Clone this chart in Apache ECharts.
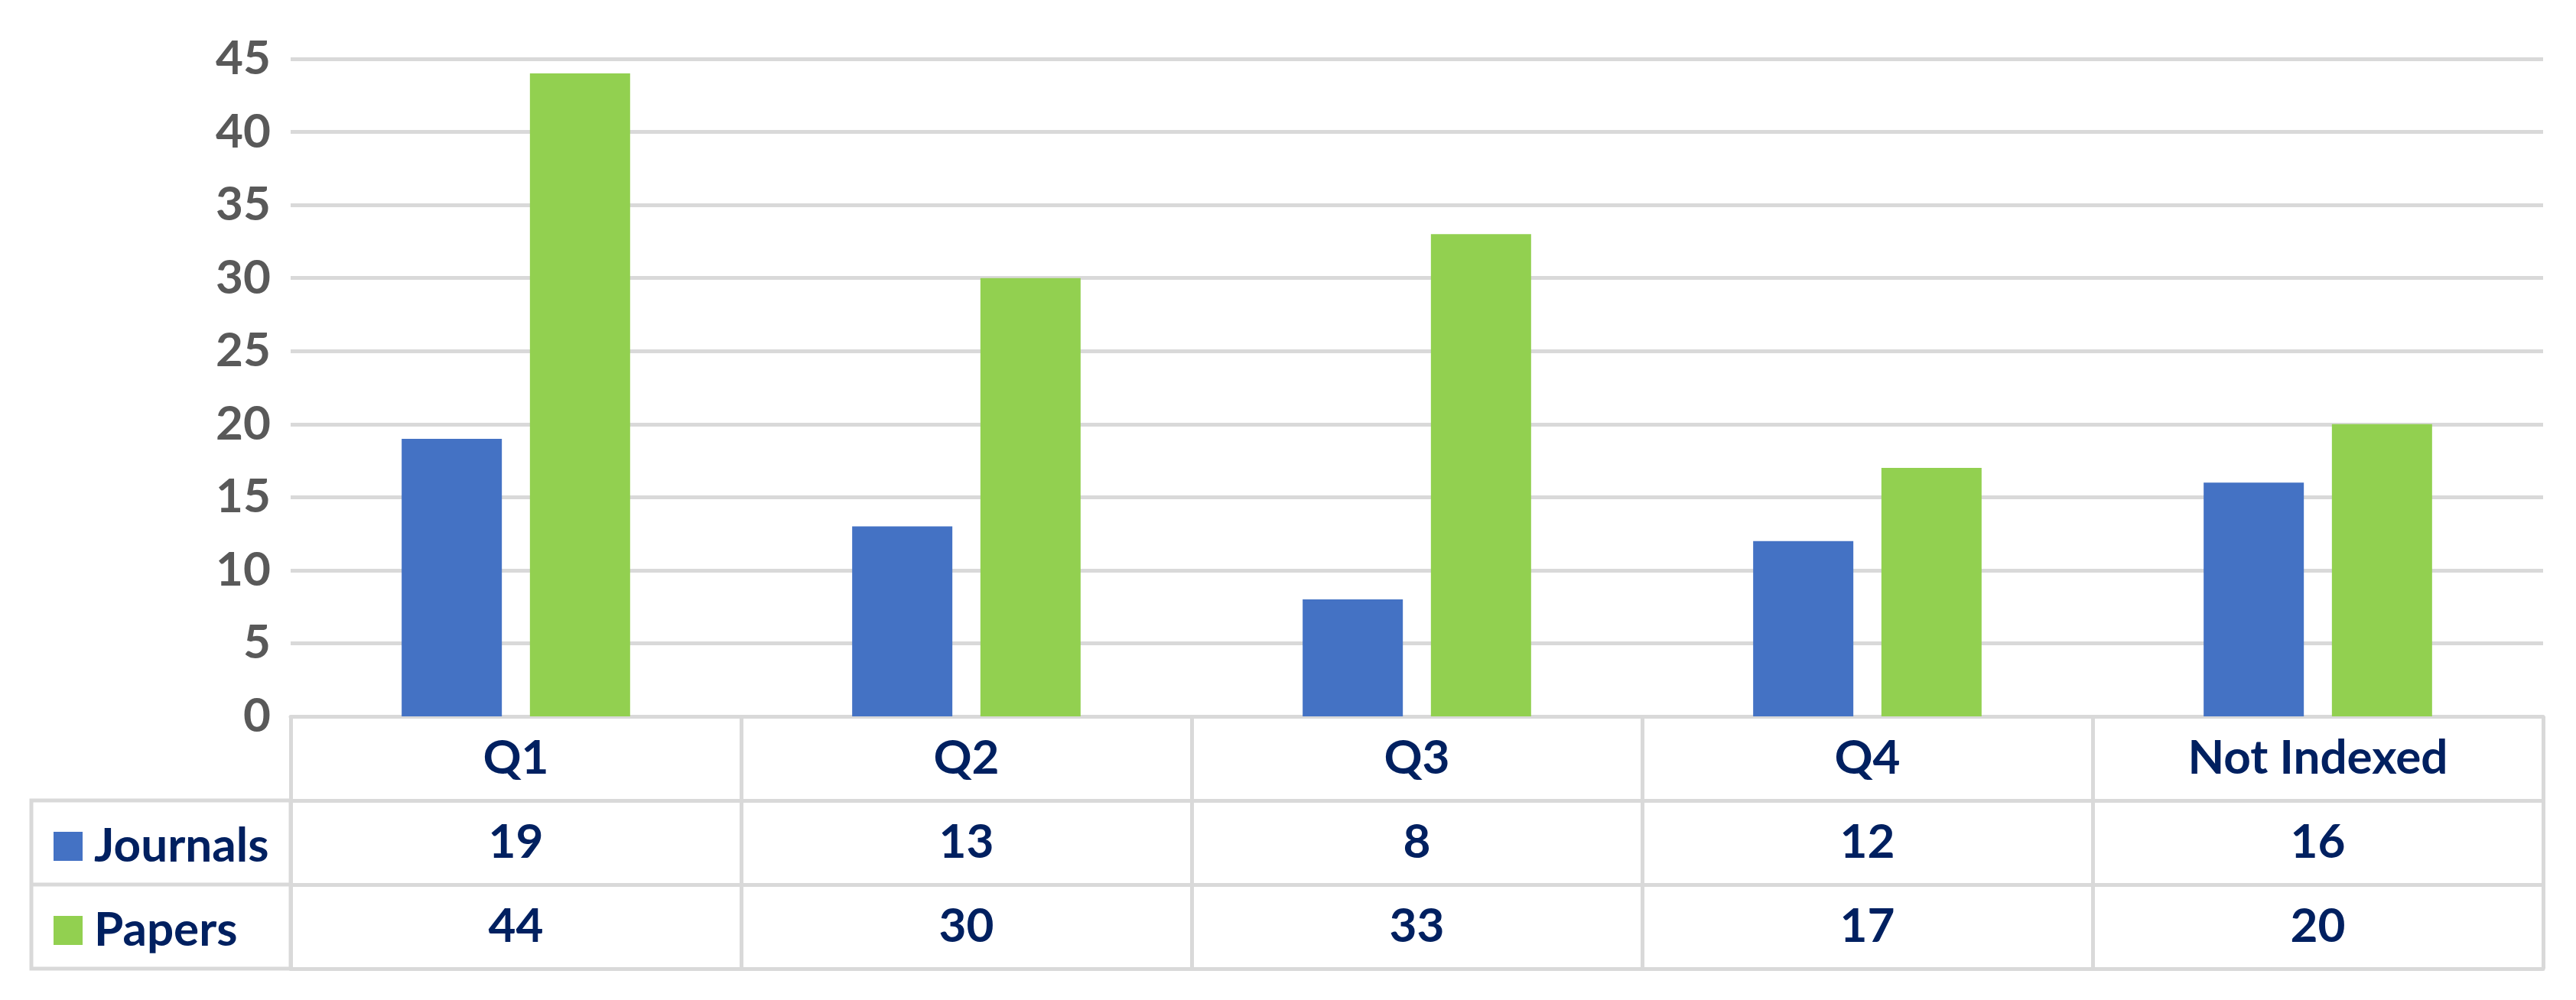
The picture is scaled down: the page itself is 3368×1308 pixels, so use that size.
<!DOCTYPE html>
<html>
<head>
<meta charset="utf-8">
<script src="https://cdn.jsdelivr.net/npm/echarts@6/dist/echarts.min.js"></script>
<style>
  html, body { margin: 0; padding: 0; background: #fff; }
  #main { width: 3368px; height: 1308px; }
</style>
</head>
<body>
<div id="main"></div>
<script>
// data
const categories = ['Q1', 'Q2', 'Q3', 'Q4', 'Not Indexed'];
const journals = [19, 13, 8, 12, 16];
const papers = [44, 30, 33, 17, 20];
const yTicks = [0, 5, 10, 15, 20, 25, 30, 35, 40, 45];

const font = 'Lato, "Open Sans", sans-serif';
const navy = '#002060';
const gridGray = '#d9d9d9';

// table rows below the plot: header row + one row per series
const rowH = 110;
const plotBottom = 937;

const labelStyle = {
  color: navy,
  fontFamily: font,
  fontWeight: 'bold',
  fontSize: 62,
  verticalAlign: 'middle',
  margin: rowH / 2
};

// one legend per table row, so each key sits in the middle of its row
function rowLegend(name, row) {
  return {
    left: 65,
    top: plotBottom + rowH * row + rowH / 2 - 31,
    itemWidth: 38,
    itemHeight: 38,
    icon: 'rect',
    textStyle: {
      color: navy,
      fontFamily: font,
      fontWeight: 'bold',
      fontSize: 62,
      lineHeight: 62,
      padding: [0, 0, 0, 10]
    },
    data: [name]
  };
}

const option = {
  animation: false,
  backgroundColor: '#fff',
  grid: {
    left: 380,
    right: 43,
    top: 77,
    bottom: 1308 - plotBottom
  },
  legend: [rowLegend('Journals', 1), rowLegend('Papers', 2)],
  xAxis: [
    {
      type: 'category',
      data: categories,
      axisLine: { lineStyle: { color: gridGray, width: 5 } },
      axisTick: {
        show: true,
        interval: 0,
        length: rowH * 3,
        lineStyle: { color: gridGray, width: 5 }
      },
      axisLabel: Object.assign({ interval: 0 }, labelStyle)
    },
    {
      type: 'category',
      data: categories,
      position: 'bottom',
      offset: rowH,
      axisLine: { lineStyle: { color: gridGray, width: 5 } },
      axisTick: { show: false },
      axisLabel: Object.assign({ interval: 0, formatter: (v, i) => String(journals[i]) }, labelStyle)
    },
    {
      type: 'category',
      data: categories,
      position: 'bottom',
      offset: rowH * 2,
      axisLine: { lineStyle: { color: gridGray, width: 5 } },
      axisTick: { show: false },
      axisLabel: Object.assign({ interval: 0, formatter: (v, i) => String(papers[i]) }, labelStyle)
    },
    {
      type: 'category',
      data: categories,
      position: 'bottom',
      offset: rowH * 3,
      axisLine: { lineStyle: { color: gridGray, width: 5 } },
      axisTick: { show: false },
      axisLabel: { show: false }
    }
  ],
  yAxis: {
    type: 'value',
    min: yTicks[0],
    max: yTicks[yTicks.length - 1],
    interval: yTicks[1] - yTicks[0],
    axisLine: { show: false },
    axisTick: { show: false },
    splitLine: { lineStyle: { color: gridGray, width: 5 } },
    axisLabel: {
      color: '#595959',
      fontFamily: font,
      fontWeight: 'bold',
      fontSize: 62,
      margin: 26
    }
  },
  // legend column of the data table
  graphic: [
    {
      type: 'rect',
      shape: { x: 41, y: plotBottom + rowH, width: 339, height: rowH * 2 },
      style: { fill: null, stroke: gridGray, lineWidth: 5 },
      z: -1
    },
    {
      type: 'line',
      shape: { x1: 41, y1: plotBottom + rowH * 2, x2: 380, y2: plotBottom + rowH * 2 },
      style: { stroke: gridGray, lineWidth: 5 },
      z: -1
    }
  ],
  series: [
    {
      name: 'Journals',
      type: 'bar',
      data: journals,
      barWidth: 131,
      barGap: '28%',
      itemStyle: { color: '#4472C4' }
    },
    {
      name: 'Papers',
      type: 'bar',
      data: papers,
      barWidth: 131,
      barGap: '28%',
      itemStyle: { color: '#92D050' }
    }
  ]
};

const myChart = echarts.init(document.getElementById('main'));
myChart.setOption(option);
</script>
</body>
</html>
